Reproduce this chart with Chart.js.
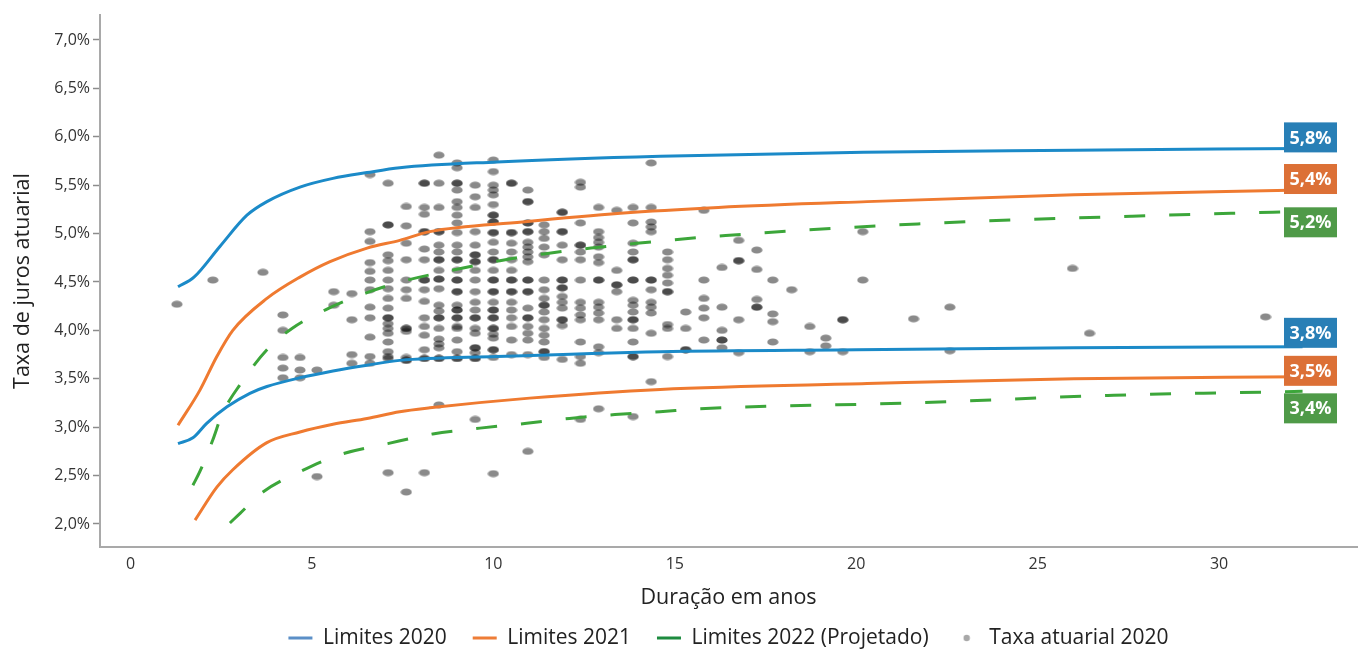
<!DOCTYPE html>
<html lang="pt-BR">
<head>
<meta charset="utf-8">
<title>Taxa de juros atuarial x Duração</title>
<script src="https://cdn.jsdelivr.net/npm/chart.js@4.4.1/dist/chart.umd.min.js"></script>
<style>
  html, body { margin: 0; padding: 0; background: #fff; }
  #wrap { width: 1358px; height: 650px; position: relative; }
</style>
</head>
<body>
<div id="wrap"><canvas id="grafico"></canvas></div>
<script>
// curvas de limite: [duração (anos), taxa (%)]
const lim2020Sup = [[1.31,4.45],[1.75,4.55],[2.47,4.87],[3.21,5.19],[3.76,5.33],[4.67,5.48],[5.58,5.57],[6.52,5.63],[7.42,5.68],[10.1,5.74],[14.6,5.80],[20.2,5.84],[26,5.86],[32.3,5.88]];
const lim2020Inf = [[1.31,2.83],[1.72,2.89],[2.1,3.04],[2.66,3.21],[3.29,3.35],[3.76,3.42],[4.67,3.51],[5.58,3.58],[6.52,3.64],[7.42,3.69],[10.1,3.73],[14.6,3.78],[20,3.80],[26,3.82],[32.3,3.83]];
const lim2021Sup = [[1.31,3.02],[1.91,3.38],[2.38,3.73],[2.82,4.00],[3.76,4.33],[4.67,4.55],[5.5,4.71],[6.52,4.85],[7.42,4.93],[8.25,5.02],[10.8,5.12],[13.5,5.21],[16.2,5.27],[20.3,5.33],[26,5.40],[32.3,5.45]];
const lim2021Inf = [[1.78,2.04],[2.38,2.38],[2.82,2.56],[3.76,2.84],[4.67,2.95],[5.58,3.03],[6.52,3.09],[7.42,3.16],[8.25,3.20],[11,3.30],[14.6,3.39],[20.3,3.45],[26,3.50],[32.3,3.52]];
const lim2022Sup = [[1.72,2.40],[1.91,2.54],[2.27,2.87],[2.52,3.13],[3.02,3.44],[3.76,3.80],[4.45,4.02],[5.36,4.21],[6.52,4.39],[7.64,4.52],[8.86,4.62],[10.18,4.72],[11.39,4.79],[12.69,4.85],[13.95,4.90],[16.4,4.98],[21.7,5.10],[27.6,5.18],[32.3,5.23]];
const lim2022Inf = [[2.74,2.01],[3.02,2.11],[3.65,2.33],[4.67,2.54],[5.72,2.71],[7.09,2.83],[8.33,2.93],[9.63,2.99],[10.92,3.04],[12.1,3.09],[13.35,3.13],[14.59,3.16],[15.7,3.19],[21.5,3.25],[27.1,3.33],[32.3,3.37]];

// taxa atuarial 2020: [duração, [taxas dos planos nessa duração]]
const taxaColunas = [
  [1.28, [4.27]],
  [2.27, [4.52]],
  [3.65, [4.60]],
  [4.2, [4.16, 4.00, 3.72, 3.61, 3.51]],
  [4.67, [3.72, 3.59, 3.51]],
  [5.14, [3.59, 2.49]],
  [5.6, [4.40, 4.26]],
  [6.1, [4.38, 4.11, 3.75, 3.66]],
  [6.6, [5.61, 5.02, 4.92, 4.70, 4.61, 4.52, 4.42, 4.24, 4.13, 3.93, 3.73, 3.66]],
  [7.1, [5.52, 5.09, 5.09, 4.78, 4.72, 4.62, 4.52, 4.43, 4.33, 4.23, 4.13, 4.13, 4.07, 4.02, 3.97, 3.88, 3.78, 3.73, 3.71, 2.53]],
  [7.6, [5.28, 5.08, 4.90, 4.73, 4.52, 4.42, 4.33, 4.02, 4.02, 3.99, 3.72, 3.69, 3.69, 2.33]],
  [8.1, [5.52, 5.52, 5.27, 5.20, 5.02, 5.02, 4.84, 4.73, 4.52, 4.52, 4.42, 4.30, 4.13, 4.04, 3.95, 3.80, 3.71, 3.71, 2.53]],
  [8.5, [5.81, 5.52, 5.27, 5.02, 5.02, 4.88, 4.81, 4.73, 4.73, 4.62, 4.53, 4.53, 4.43, 4.26, 4.20, 4.13, 4.13, 4.02, 3.91, 3.86, 3.82, 3.71, 3.71, 3.23]],
  [9.0, [5.73, 5.68, 5.52, 5.52, 5.45, 5.33, 5.27, 5.19, 5.11, 5.01, 4.88, 4.81, 4.73, 4.73, 4.62, 4.52, 4.52, 4.40, 4.40, 4.26, 4.21, 4.21, 4.13, 4.13, 4.04, 4.02, 3.90, 3.78, 3.71, 3.71]],
  [9.5, [5.50, 5.38, 5.27, 5.02, 4.88, 4.78, 4.78, 4.71, 4.71, 4.62, 4.52, 4.40, 4.29, 4.21, 4.13, 4.13, 4.02, 3.97, 3.82, 3.82, 3.77, 3.71, 3.71, 3.08]],
  [10.0, [5.76, 5.64, 5.50, 5.45, 5.40, 5.30, 5.19, 5.19, 5.12, 5.12, 5.01, 5.01, 4.91, 4.81, 4.73, 4.73, 4.62, 4.52, 4.52, 4.40, 4.40, 4.29, 4.21, 4.21, 4.13, 4.13, 4.02, 4.02, 3.96, 3.92, 3.80, 3.80, 3.72, 2.52]],
  [10.5, [5.52, 5.52, 5.01, 5.01, 4.90, 4.81, 4.73, 4.62, 4.52, 4.52, 4.40, 4.40, 4.29, 4.21, 4.13, 4.04, 3.90, 3.75]],
  [10.95, [5.45, 5.33, 5.33, 5.11, 5.11, 5.02, 5.02, 4.91, 4.86, 4.81, 4.76, 4.71, 4.52, 4.52, 4.40, 4.40, 4.23, 4.13, 4.13, 4.04, 3.97, 3.90, 3.75, 2.75]],
  [11.4, [5.09, 5.02, 4.95, 4.86, 4.78, 4.52, 4.42, 4.33, 4.26, 4.26, 4.19, 4.11, 4.02, 3.95, 3.88, 3.78, 3.78, 3.72]],
  [11.9, [5.22, 5.22, 5.02, 5.02, 4.88, 4.73, 4.52, 4.52, 4.44, 4.44, 4.35, 4.29, 4.23, 4.11, 4.11, 4.05, 3.70]],
  [12.4, [5.53, 5.48, 5.11, 4.88, 4.88, 4.81, 4.73, 4.52, 4.29, 4.23, 4.16, 4.11, 3.88, 3.73, 3.66, 3.08]],
  [12.9, [5.27, 5.02, 4.96, 4.91, 4.86, 4.76, 4.70, 4.52, 4.52, 4.29, 4.24, 4.18, 4.11, 3.83, 3.77, 3.19]],
  [13.4, [5.24, 4.62, 4.47, 4.47, 4.40, 4.11, 4.02]],
  [13.85, [5.27, 5.11, 4.90, 4.81, 4.73, 4.73, 4.52, 4.52, 4.31, 4.26, 4.19, 4.11, 4.11, 4.02, 3.88, 3.73, 3.73, 3.11]],
  [14.35, [5.73, 5.27, 5.12, 5.07, 5.02, 4.52, 4.52, 4.42, 4.29, 4.24, 4.18, 3.97, 3.47]],
  [14.8, [4.81, 4.73, 4.64, 4.57, 4.49, 4.40, 4.40, 4.06, 4.02, 3.73]],
  [15.3, [4.19, 4.02, 3.80, 3.80]],
  [15.8, [5.24, 4.52, 4.33, 4.23, 4.13, 3.90]],
  [16.3, [4.65, 4.24, 4.00, 3.90, 3.90, 3.82]],
  [16.76, [4.93, 4.72, 4.72, 4.11, 3.77]],
  [17.26, [4.83, 4.63, 4.32, 4.24, 4.24]],
  [17.7, [4.52, 4.17, 4.09, 3.88]],
  [18.22, [4.42]],
  [18.72, [4.04, 3.78]],
  [19.16, [3.92, 3.84]],
  [19.63, [4.11, 4.11, 3.78]],
  [20.18, [5.02, 4.52]],
  [21.58, [4.12]],
  [22.58, [4.24, 3.79]],
  [25.96, [4.64]],
  [26.43, [3.97]],
  [31.28, [4.14]]
];

const xTicks = [0, 5, 10, 15, 20, 25, 30];
const yTicks = [2.0, 2.5, 3.0, 3.5, 4.0, 4.5, 5.0, 5.5, 6.0, 6.5, 7.0];
const rotulosFinais = ['5,8%', '5,4%', '5,2%', '3,8%', '3,5%', '3,4%'];

const pares = arr => arr.map(p => ({x: p[0], y: p[1]}));
const pontosTaxa = [];
taxaColunas.forEach(c => c[1].forEach(v => pontosTaxa.push({x: c[0], y: v})));

// marcador: elipse cinza semitransparente (sobreposições escurecem)
const marcador = document.createElement('canvas');
marcador.width = 12; marcador.height = 8;
(function() {
  const c = marcador.getContext('2d');
  c.fillStyle = 'rgba(0,0,0,0.46)';
  c.beginPath();
  c.ellipse(6, 4, 5.6, 3.6, 0, 0, Math.PI * 2);
  c.fill();
})();
const marcadorLegenda = document.createElement('canvas');
marcadorLegenda.width = 8; marcadorLegenda.height = 8;
(function() {
  const c = marcadorLegenda.getContext('2d');
  c.fillStyle = '#a8a8a8';
  c.beginPath();
  c.arc(4, 4, 3.2, 0, Math.PI * 2);
  c.fill();
})();

const AZUL = '#1b8ac8', LARANJA = '#ef7a30', VERDE = '#3ca63a';

function linha(label, data, cor, opts) {
  return Object.assign({
    type: 'line',
    label: label,
    data: pares(data),
    borderColor: cor,
    backgroundColor: cor,
    borderWidth: 3,
    pointRadius: 0,
    pointHoverRadius: 0,
    pointStyle: 'line',
    fill: false,
    cubicInterpolationMode: 'monotone',
    order: 0
  }, opts);
}

const rotulosPlugin = {
  id: 'rotulosFinais',
  afterDatasetsDraw(chart) {
    const {ctx, chartArea, scales} = chart;
    ctx.save();
    ctx.font = 'bold 18px "Open Sans", "Noto Sans", sans-serif';
    ctx.textAlign = 'center';
    ctx.textBaseline = 'middle';
    rotulosFinais.forEach((txt, i) => {
      const ds = chart.data.datasets[i];
      const ultimo = ds.data[ds.data.length - 1];
      const cy = scales.y.getPixelForValue(ultimo.y) + ds.rotuloDy;
      const left = chartArea.right - 73;
      ctx.fillStyle = ds.rotuloCor;
      ctx.fillRect(left, cy - 15, 53, 30);
      ctx.fillStyle = '#ffffff';
      ctx.fillText(txt, left + 26.5, cy + 1);
    });
    ctx.restore();
  }
};

Chart.defaults.font.family = '"Open Sans", "Noto Sans", sans-serif';
Chart.defaults.color = '#333333';

new Chart(document.getElementById('grafico'), {
  type: 'line',
  data: {
    datasets: [
      linha('Limites 2020', lim2020Sup, AZUL, {legendColor: '#5b8fc7', rotuloCor: '#287fb6', rotuloDy: -11}),
      linha('Limites 2021', lim2021Sup, LARANJA, {legendColor: '#ee7d37', rotuloCor: '#dc7036', rotuloDy: -11}),
      linha('Limites 2022 (Projetado)', lim2022Sup, VERDE, {borderDash: [21, 24], legendColor: '#1d8b3f', rotuloCor: '#4f9a48', rotuloDy: 11}),
      linha('Limites 2020 inf', lim2020Inf, AZUL, {rotuloCor: '#287fb6', rotuloDy: -14}),
      linha('Limites 2021 inf', lim2021Inf, LARANJA, {rotuloCor: '#dc7036', rotuloDy: -6}),
      linha('Limites 2022 inf', lim2022Inf, VERDE, {borderDash: [21, 24], rotuloCor: '#4f9a48', rotuloDy: 17}),
      {
        type: 'line',
        label: 'Taxa atuarial 2020',
        data: pontosTaxa,
        showLine: false,
        pointStyle: marcador,
        pointRadius: 5,
        pointHoverRadius: 5,
        backgroundColor: '#a8a8a8',
        borderColor: '#a8a8a8',
        legendColor: '#a8a8a8',
        order: 1
      }
    ]
  },
  options: {
    responsive: true,
    maintainAspectRatio: false,
    animation: false,
    layout: { autoPadding: false, padding: { top: 15, right: 1, bottom: -8.5, left: 0 } },
    plugins: {
      tooltip: { enabled: false },
      legend: {
        position: 'bottom',
        fullSize: false,
        labels: {
          usePointStyle: true,
          pointStyleWidth: 24,
          boxHeight: 5,
          padding: 26,
          color: '#222222',
          font: { size: 21 },
          filter: (item, data) => !!data.datasets[item.datasetIndex].legendColor,
          generateLabels(chart) {
            const items = Chart.defaults.plugins.legend.labels.generateLabels(chart);
            items.forEach(it => {
              const ds = chart.data.datasets[it.datasetIndex];
              const c = ds.legendColor;
              it.strokeStyle = c;
              it.fillStyle = c;
              it.lineDash = [];
              if (ds.showLine === false) {
                it.pointStyle = marcadorLegenda;
              } else {
                it.pointStyle = 'line';
                it.lineWidth = 3;
              }
            });
            return items;
          }
        }
      }
    },
    scales: {
      x: {
        type: 'linear',
        min: -0.84,
        max: 33.8,
        afterBuildTicks: s => { s.ticks = xTicks.map(v => ({value: v})); },
        afterFit: s => { s.height = 54.5; },
        grid: { display: false, drawTicks: false },
        border: { display: true, color: '#a9a9a9', width: 2 },
        ticks: { padding: 8, font: { size: 16 }, color: '#333333' },
        title: {
          display: true,
          text: 'Duração em anos',
          font: { size: 21.5 },
          color: '#222222',
          padding: { top: 0, bottom: -9.5 }
        }
      },
      y: {
        type: 'linear',
        min: 1.762,
        max: 7.258,
        afterBuildTicks: s => { s.ticks = yTicks.map(v => ({value: v})); },
        afterFit: s => { s.width = 100; },
        grid: { drawOnChartArea: false, drawTicks: true, tickLength: 7, color: '#8c8c8c', tickWidth: 1.5 },
        border: { display: true, color: '#a9a9a9', width: 2 },
        ticks: {
          padding: 3,
          font: { size: 16 },
          color: '#333333',
          callback: v => v.toFixed(1).replace('.', ',') + '%'
        },
        title: {
          display: true,
          text: 'Taxa de juros atuarial',
          font: { size: 21.5 },
          color: '#222222',
          padding: { top: 10, bottom: 0 }
        }
      }
    }
  },
  plugins: [rotulosPlugin]
});
</script>
</body>
</html>
